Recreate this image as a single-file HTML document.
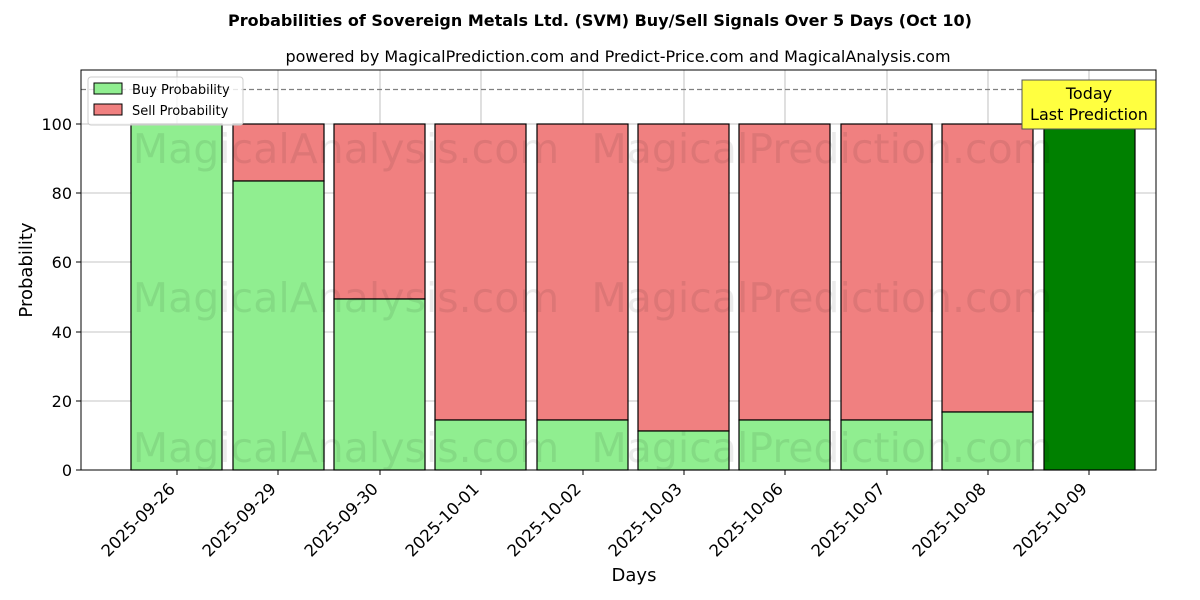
<!DOCTYPE html>
<html><head><style>body{margin:0;background:#fff}svg{display:block}</style></head><body>
<svg width="1200" height="600" xmlns="http://www.w3.org/2000/svg" font-family="DejaVu Sans, Liberation Sans, sans-serif">
<rect width="1200" height="600" fill="#fff"/>
<text x="600" y="26" text-anchor="middle" font-size="16" font-weight="bold">Probabilities of Sovereign Metals Ltd. (SVM) Buy/Sell Signals Over 5 Days (Oct 10)</text>
<text x="618" y="62" text-anchor="middle" font-size="16">powered by MagicalPrediction.com and Predict-Price.com and MagicalAnalysis.com</text>
<g stroke="#b0b0b0" stroke-width="0.8">
<line x1="81" x2="1156" y1="470" y2="470"/><line x1="81" x2="1156" y1="401" y2="401"/><line x1="81" x2="1156" y1="332" y2="332"/><line x1="81" x2="1156" y1="262" y2="262"/><line x1="81" x2="1156" y1="193" y2="193"/><line x1="81" x2="1156" y1="124" y2="124"/>
<line x1="177" x2="177" y1="70" y2="470"/><line x1="278" x2="278" y1="70" y2="470"/><line x1="380" x2="380" y1="70" y2="470"/><line x1="481" x2="481" y1="70" y2="470"/><line x1="583" x2="583" y1="70" y2="470"/><line x1="684" x2="684" y1="70" y2="470"/><line x1="785" x2="785" y1="70" y2="470"/><line x1="887" x2="887" y1="70" y2="470"/><line x1="988" x2="988" y1="70" y2="470"/><line x1="1089" x2="1089" y1="70" y2="470"/>
</g>
<g stroke="#000" stroke-width="1.2">
<rect x="131" y="124" width="91" height="346" fill="#90ee90"/>
<rect x="233" y="124" width="91" height="57" fill="#f08080"/><rect x="233" y="181" width="91" height="289" fill="#90ee90"/>
<rect x="334" y="124" width="91" height="175" fill="#f08080"/><rect x="334" y="299" width="91" height="171" fill="#90ee90"/>
<rect x="435" y="124" width="91" height="296" fill="#f08080"/><rect x="435" y="420" width="91" height="50" fill="#90ee90"/>
<rect x="537" y="124" width="91" height="296" fill="#f08080"/><rect x="537" y="420" width="91" height="50" fill="#90ee90"/>
<rect x="638" y="124" width="91" height="307" fill="#f08080"/><rect x="638" y="431" width="91" height="39" fill="#90ee90"/>
<rect x="739" y="124" width="91" height="296" fill="#f08080"/><rect x="739" y="420" width="91" height="50" fill="#90ee90"/>
<rect x="841" y="124" width="91" height="296" fill="#f08080"/><rect x="841" y="420" width="91" height="50" fill="#90ee90"/>
<rect x="942" y="124" width="91" height="288" fill="#f08080"/><rect x="942" y="412" width="91" height="58" fill="#90ee90"/>
<rect x="1044" y="124" width="91" height="346" fill="#008000"/>
</g>
<g font-size="41" fill="#000" fill-opacity="0.08" text-anchor="middle">
<text x="346" y="163">MagicalAnalysis.com</text><text x="822" y="163">MagicalPrediction.com</text>
<text x="346" y="312">MagicalAnalysis.com</text><text x="822" y="312">MagicalPrediction.com</text>
<text x="346" y="462">MagicalAnalysis.com</text><text x="822" y="462">MagicalPrediction.com</text>
</g>
<line x1="81" x2="1156" y1="89.5" y2="89.5" stroke="#808080" stroke-width="1.2" stroke-dasharray="5,3"/>
<rect x="1022" y="80" width="134" height="49" fill="#ffff40" stroke="#555" stroke-width="1"/>
<text x="1089" y="99" text-anchor="middle" font-size="16">Today</text>
<text x="1089" y="120" text-anchor="middle" font-size="16">Last Prediction</text>
<rect x="81" y="70" width="1075" height="400" fill="none" stroke="#000" stroke-width="1"/>
<rect x="88" y="77" width="155" height="48" fill="#fff" fill-opacity="0.8" stroke="#ccc" rx="3"/>
<rect x="94" y="83" width="28" height="11" fill="#90ee90" stroke="#000"/>
<text x="132" y="94" font-size="13">Buy Probability</text>
<rect x="94" y="104" width="28" height="11" fill="#f08080" stroke="#000"/>
<text x="132" y="115" font-size="13">Sell Probability</text>
<g font-size="16" text-anchor="end">
<text x="72" y="476">0</text><text x="72" y="407">20</text><text x="72" y="338">40</text><text x="72" y="268">60</text><text x="72" y="199">80</text><text x="72" y="130">100</text>
</g>
<g stroke="#000"><line x1="76" x2="81" y1="470" y2="470"/><line x1="76" x2="81" y1="401" y2="401"/><line x1="76" x2="81" y1="332" y2="332"/><line x1="76" x2="81" y1="262" y2="262"/><line x1="76" x2="81" y1="193" y2="193"/><line x1="76" x2="81" y1="124" y2="124"/>
<line x1="177" x2="177" y1="470" y2="475"/><line x1="278" x2="278" y1="470" y2="475"/><line x1="380" x2="380" y1="470" y2="475"/><line x1="481" x2="481" y1="470" y2="475"/><line x1="583" x2="583" y1="470" y2="475"/><line x1="684" x2="684" y1="470" y2="475"/><line x1="785" x2="785" y1="470" y2="475"/><line x1="887" x2="887" y1="470" y2="475"/><line x1="988" x2="988" y1="470" y2="475"/><line x1="1089" x2="1089" y1="470" y2="475"/></g>
<g font-size="16.5" text-anchor="end">
<text transform="translate(176,490) rotate(-45)">2025-09-26</text>
<text transform="translate(277,490) rotate(-45)">2025-09-29</text>
<text transform="translate(379,490) rotate(-45)">2025-09-30</text>
<text transform="translate(480,490) rotate(-45)">2025-10-01</text>
<text transform="translate(582,490) rotate(-45)">2025-10-02</text>
<text transform="translate(683,490) rotate(-45)">2025-10-03</text>
<text transform="translate(784,490) rotate(-45)">2025-10-06</text>
<text transform="translate(886,490) rotate(-45)">2025-10-07</text>
<text transform="translate(987,490) rotate(-45)">2025-10-08</text>
<text transform="translate(1088,490) rotate(-45)">2025-10-09</text>
</g>
<text x="634" y="581" text-anchor="middle" font-size="18">Days</text>
<text transform="translate(32,270) rotate(-90)" text-anchor="middle" font-size="18">Probability</text>
</svg>
</body></html>
